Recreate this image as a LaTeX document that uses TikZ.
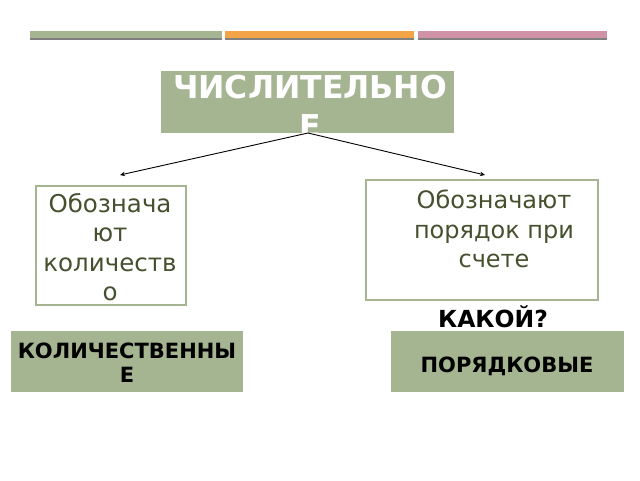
\documentclass[tikz,border=0pt]{standalone}
\usepackage{fontspec}
\setmainfont{DejaVu Sans}
\usetikzlibrary{arrows.meta}
\definecolor{sage}{HTML}{A5B592}
\definecolor{orangeb}{HTML}{F3A447}
\definecolor{pinkb}{HTML}{D092A7}
\definecolor{olive}{HTML}{45502E}
\definecolor{shadowg}{HTML}{808080}
\tikzset{
  greenbox/.style={fill=sage, draw=none},
  whitebox/.style={fill=white, draw=sage, line width=1.5pt},
  boxtext/.style={text=olive, align=center, inner sep=0, font=\fontsize{24.5}{29.5}\selectfont},
  captext/.style={align=center, inner sep=0, font=\fontsize{21}{24}\selectfont\bfseries},
  conn/.style={draw=black, line width=0.9pt, -{Stealth[length=5pt,width=4.5pt]}}
}
\begin{document}
\begin{tikzpicture}[x=1pt,y=-1pt]
\useasboundingbox (0,0) rectangle (640,480);
% top bars
\fill[shadowg] (30,37) rectangle (222,40);
\fill[sage] (30,31) rectangle (222,38);
\fill[shadowg] (225,37) rectangle (414,40);
\fill[orangeb] (225,31) rectangle (414,38);
\fill[shadowg] (418,37) rectangle (607,40);
\fill[pinkb] (418,31) rectangle (607,38);
% title
\fill[sage] (161,71) rectangle (454,133);
\node[text=white, align=center, inner sep=0, anchor=north,
  font=\fontsize{31.5}{39}\selectfont\bfseries] (title) at (310,75) {ЧИСЛИТЕЛЬНО\\Е};
\coordinate (top) at (308,133);
% left box
\node[whitebox, minimum width=150pt, minimum height=119pt, anchor=north west, inner sep=0] (lbox) at (35,185) {};
\node[boxtext, anchor=north] (ltext) at (110,193) {Обознача\\ют\\количеств\\о};
% right box
\node[whitebox, minimum width=232pt, minimum height=120pt, anchor=north west, inner sep=0] (rbox) at (365,179) {};
\node[boxtext, anchor=north, font=\fontsize{24}{29.5}\selectfont] (rtext) at (494,190) {Обозначают\\порядок при\\счете};
% arrows
\coordinate (ltip) at (120,175);
\coordinate (rtip) at (485,175);
\draw[conn] (top) -- (ltip);
\draw[conn] (top) -- (rtip);
% question
\node[font=\fontsize{23.5}{28}\selectfont\bfseries, inner sep=0, anchor=base] (q) at (493,327) {КАКОЙ?};
% bottom boxes
\node[greenbox, minimum width=232pt, minimum height=61pt, anchor=north west, inner sep=0] (bl) at (11,331) {};
\node[captext, anchor=north] (bltext) at (127,343) {КОЛИЧЕСТВЕННЫ\\Е};
\node[greenbox, minimum width=233pt, minimum height=61pt, anchor=north west, inner sep=0] (br) at (391,331) {};
\node[captext, anchor=base] (brtext) at (507,372) {ПОРЯДКОВЫЕ};
\end{tikzpicture}
\end{document}
